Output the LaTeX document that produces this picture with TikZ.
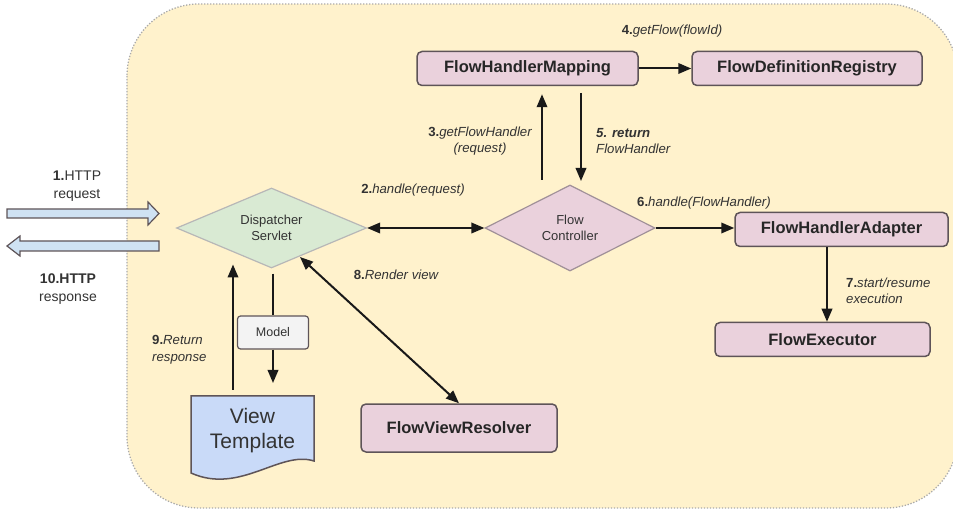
\documentclass[tikz,border=0pt]{standalone}
\usepackage{fontspec}
\setmainfont{Liberation Sans}
\usetikzlibrary{arrows.meta,shapes.geometric}
\definecolor{bgfill}{HTML}{FFF2CC}
\definecolor{bgline}{HTML}{ABABAB}
\definecolor{pinkfill}{HTML}{EAD1DC}
\definecolor{boxline}{HTML}{5E5458}
\definecolor{greenfill}{HTML}{D9EAD3}
\definecolor{greenline}{HTML}{B7B7B7}
\definecolor{fcline}{HTML}{A09098}
\definecolor{bluefill}{HTML}{C9DAF8}
\definecolor{arrowfill}{HTML}{CFE2F3}
\definecolor{modelfill}{HTML}{F3F3F3}
\definecolor{labelc}{HTML}{333333}
\newcommand\stepno[1]{\textbf{\upshape #1}}
\begin{document}
\begin{tikzpicture}[x=1pt,y=-1pt,
  pinkbox/.style={draw=boxline, fill=pinkfill, line width=1.5pt, rounded corners=5pt,
    minimum height=34pt, inner sep=0pt, font=\fontsize{16.5}{19}\selectfont\bfseries, text=black!85},
  dshape/.style={diamond, inner sep=0pt, align=center, line width=1.2pt,
    font=\fontsize{13}{15.5}\selectfont, text=labelc},
  lab/.style={inner sep=0pt, font=\fontsize{13.2}{16.5}\selectfont\itshape, text=labelc},
  leftlab/.style={inner sep=0pt, align=center, font=\fontsize{14}{18}\selectfont, text=labelc},
  arr/.style={line width=2pt, draw=black!90, -{Triangle[length=13pt,width=10.5pt]}},
  darr/.style={line width=2pt, draw=black!90, {Triangle[length=13pt,width=10.5pt]}-{Triangle[length=13pt,width=10.5pt]}},
  plain/.style={line width=2pt, draw=black!90},
  blockarrow/.style={draw=boxline, fill=arrowfill, line width=1.2pt, line join=miter}
]
\useasboundingbox (0,0) rectangle (953,510);
% background
\draw[fill=bgfill, draw=bgline, line width=1.3pt, dash pattern=on 1.3pt off 1.7pt, rounded corners=72pt]
  (127,4) rectangle (958,508);

% boxes
\node[pinkbox, minimum width=221pt] (fhm) at (527.5,68.5) {FlowHandlerMapping};
\node[pinkbox, minimum width=230pt] (fdr) at (807,68.5) {FlowDefinitionRegistry};
\node[pinkbox, minimum width=213pt] (fha) at (841.5,229.5) {FlowHandlerAdapter};
\node[pinkbox, minimum width=215pt] (fe) at (822.5,339.5) {FlowExecutor};
\node[pinkbox, minimum width=196pt, minimum height=48pt] (fvr) at (459,428) {FlowViewResolver};

% diamonds
\node[dshape, draw=greenline, fill=greenfill, minimum width=190pt, minimum height=80pt, aspect=2.375]
  (ds) at (271.5,228) {Dispatcher\\Servlet};
\node[dshape, draw=fcline, fill=pinkfill, minimum width=170pt, minimum height=86pt, aspect=1.98]
  (fc) at (570,228) {Flow\\Controller};

% model
\node[draw=boxline, fill=modelfill, rounded corners=3pt, line width=1.2pt, minimum width=71pt,
  minimum height=33pt, inner sep=0pt, font=\fontsize{12.5}{15}\selectfont, text=labelc]
  (model) at (273,332.5) {Model};

% view template document shape
\coordinate (vtl) at (191,396);
\coordinate (vtr) at (314,396);
\draw[fill=bluefill, draw=boxline, line width=1.5pt]
  (vtl) -- (vtr) -- (314,461) .. controls (280,450) and (240,495) .. (191,473) -- cycle;
\node[inner sep=0pt, align=center, font=\fontsize{21}{25}\selectfont, text=labelc]
  (vt) at (252.5,431) {View\\Template};

% left block arrows
\draw[blockarrow] (7,209) -- (148,209) -- (148,202) -- (159,213.5) -- (148,225) -- (148,218) -- (7,218) -- cycle;
\draw[blockarrow] (159,241) -- (20,241) -- (20,236) -- (7,246) -- (20,256) -- (20,251) -- (159,251) -- cycle;
\node[leftlab] (l1) at (77,186) {\textbf{1.}HTTP\\request};
\node[leftlab] (l10) at (68,289) {\textbf{10.HTTP}\\response};

% connectors
\draw[darr] (ds.east) -- (fc.west);
\draw[arr] (fhm.east) -- (fdr.west);
\draw[arr] (fc.east) -- (fc.east -| fha.west);

\coordinate (a3s) at (542,180);
\coordinate (a5s) at (581,93);
\coordinate (a5e) at (581,181);
\draw[arr, shorten >=8pt] (a3s) -- (fhm.south -| a3s);
\draw[arr] (a5s) -- (a5e);

\coordinate (a7) at (827,300);
\draw[arr] (fha.south -| a7) -- (fe.north -| a7);

\coordinate (a8s) at (300,257);
\draw[darr] (a8s) -- (fvr.north);

\draw[plain, shorten <=5pt] (model.north |- ds.south) -- (model.north);
\draw[arr, shorten >=13pt] (model.south) -- (model.south |- vtl);

\coordinate (a9s) at (233,396);
\coordinate (a9e) at (233,251.5);
\draw[arr, shorten <=6pt, shorten >=13pt] (a9s) -- (a9e);

% labels
\node[lab] (t4) at (672,31) {\stepno{4.}getFlow(flowId)};
\node[lab, align=center] (t3) at (480,141) {\stepno{3.}getFlowHandler\\(request)};
\node[lab, align=left, anchor=west] (t5) at (596,141) {\textbf{5. return}\\FlowHandler};
\node[lab] (t2) at (413,190) {\stepno{2.}handle(request)};
\node[lab] (t6) at (704,203) {\stepno{6.}handle(FlowHandler)};
\node[lab, align=left, anchor=west] (t7) at (846,291) {\stepno{7.}start/resume\\execution};
\node[lab] (t8) at (396,275) {\stepno{8.}Render view};
\node[lab, align=left, anchor=west] (t9) at (152,350) {\stepno{9.}Return\\response};
\end{tikzpicture}
\end{document}
